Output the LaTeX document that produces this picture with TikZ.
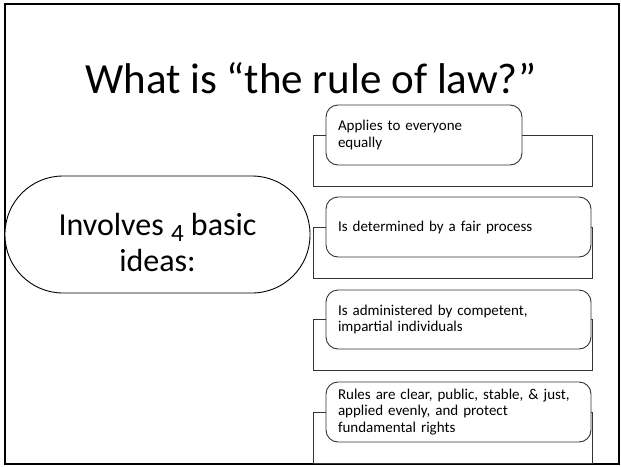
\documentclass[tikz,border=0pt]{standalone}
\usepackage{fontspec}
\setmainfont{Carlito}
\newcommand{\oldfour}{{\fontsize{25}{25}\selectfont\raisebox{-0.25em}{4}}}
\begin{document}
\begin{tikzpicture}[x=1pt,y=-1pt,
  frameline/.style={draw=black,line width=2pt},
  bracket/.style={draw=black!80,line width=0.9pt},
  itembox/.style={draw=black!80,line width=0.9pt,fill=white,rounded corners=12pt,
    minimum height=60pt,inner xsep=12pt,inner ysep=0pt,align=left,anchor=center,
    font=\fontsize{15}{16.5}\selectfont},
  ideabox/.style={draw=black,line width=0.9pt,fill=white,rounded corners=58pt,
    minimum width=305pt,minimum height=117pt},
  ideatext/.style={align=center,inner sep=0pt,font=\fontsize{32}{36}\selectfont}]
\useasboundingbox (0,0) rectangle (621,466);
\draw[frameline] (4.5,4) rectangle (619,464);
% title
\node[anchor=base,font=\fontsize{43}{48}\selectfont,inner sep=0pt] (title) at (311,93) {What is “the rule of law?”};
% main idea
\node[ideabox] (ideas) at (157.5,234.5) {};
\node[ideatext,yshift=-8pt] (ideastext) at (ideas.center) {Involves \oldfour{} basic\\ideas:};
% bracket connectors
\coordinate (c1) at (313,135);
\coordinate (c2) at (313,227);
\coordinate (c3) at (313,319.5);
\coordinate (c4) at (313,412);
\foreach \i in {1,2,3,4}{
  \draw[bracket] (c\i) rectangle ++(279,51);
}
% items
\node[itembox,text width=172pt] (b1) at (424,135) {Applies to everyone\\equally};
\node[itembox,text width=241pt] (b2) at (458.5,227) {Is determined by a fair process};
\node[itembox,text width=241pt,minimum height=59pt] (b3) at (458.5,319.5) {Is administered by competent,\\impartial individuals};
\node[itembox,text width=241pt] (b4) at (458.5,412) {Rules are clear, public, stable, \& just,\\applied evenly, and protect\\fundamental rights};
\end{tikzpicture}
\end{document}
